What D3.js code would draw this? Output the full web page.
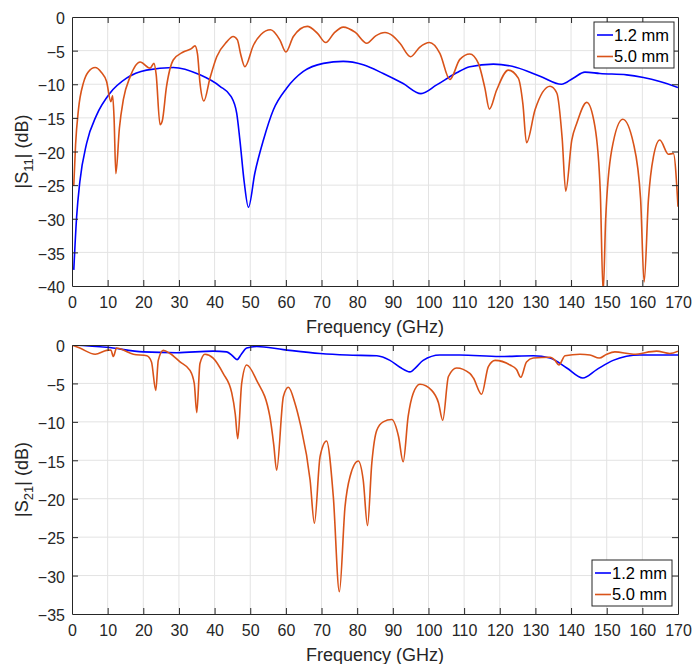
<!DOCTYPE html>
<html>
<head>
<meta charset="utf-8">
<style>
  body { margin: 0; background: #fff; }
  svg { display: block; font-family: "Liberation Sans", Arial, Helvetica, sans-serif; }
  .tick text { fill: #262626; }
</style>
<script src="https://cdn.jsdelivr.net/npm/d3@7"></script>
</head>
<body>
<svg id="chart" width="693" height="664"></svg>
<script>
// ---- data: [frequency GHz, dB] ----
let freqTicks = [0, 10, 20, 30, 40, 50, 60, 70, 80, 90, 100, 110, 120, 130, 140, 150, 160, 170]
let s11Ticks = [0, -5, -10, -15, -20, -25, -30, -35, -40]
let s21Ticks = [0, -5, -10, -15, -20, -25, -30, -35]
let seriesNames = ["1.2 mm", "5.0 mm"]

let s11_12mm = [[0.5,-37.6],[1.3,-29.7],[2.2,-24.5],[4.1,-18.8],[6.9,-14.6],[10.7,-11.3],[15.3,-9.1],[20.9,-7.9],
  [28.4,-7.5],[35.9,-8.6],[41.5,-10.3],[44.6,-11.8],[46.2,-14.3],[47.1,-18.3],[48.3,-24.5],[49.5,-28.3],
  [51.3,-23.2],[53.7,-18.3],[56.5,-13.8],[60.2,-10.6],[64.9,-8.1],[70.5,-6.9],[76.1,-6.6],[81.7,-7.1],
  [87.3,-8.4],[92.9,-9.9],[97.9,-11.4],[102.3,-10.1],[107.9,-8.3],[111.6,-7.4],[118.2,-7.0],[124.7,-7.5],
  [131.3,-8.8],[137.3,-10.0],[140.6,-9.1],[143.9,-8.2],[148.1,-8.4],[155.6,-8.6],[160.3,-9.0],[164.9,-9.6],[170,-10.5]]

let s11_50mm = [[0.5,-25.1],[1.0,-19],[1.8,-13.8],[3.2,-9.8],[4.5,-8.2],[6.5,-7.5],[8.2,-8.2],[9.7,-9.6],
  [10.9,-12.6],[11.4,-11.7],[11.8,-15],[12.3,-23.3],[13.3,-16.5],[14.4,-12.3],[16.3,-8.9],[19.1,-6.7],
  [21.9,-7.6],[23.0,-6.9],[23.6,-8.5],[24.7,-16.0],[25.3,-15.5],[26.5,-10.4],[28.4,-6.4],[31.2,-5.2],
  [33.5,-4.7],[34.5,-4.3],[35.2,-5.5],[35.9,-9.8],[37.0,-12.5],[38.7,-9.1],[40.6,-5.9],[43.4,-3.7],
  [45.2,-2.9],[46.4,-3.4],[47.3,-5.5],[48.5,-7.4],[50.9,-4.2],[53,-2.6],[55.7,-1.9],[58.3,-3.4],
  [60.0,-5.2],[62.1,-2.9],[66.0,-1.4],[68.8,-2.4],[71.2,-3.8],[73.5,-2.4],[76.1,-1.5],[79.5,-2.3],
  [82.7,-3.9],[85.2,-2.8],[87.8,-2.3],[90,-2.8],[92.0,-3.9],[95.0,-5.9],[97.5,-4.5],[100.3,-3.8],
  [103.2,-5.4],[106.0,-9.3],[108.8,-6.3],[111.6,-5.5],[114.0,-6.9],[115.8,-10.5],[117.1,-13.7],[119.1,-10.9],
  [122.4,-7.9],[125.2,-9.1],[126.5,-13],[127.5,-18.7],[129.9,-13.8],[134.1,-10.3],[136.0,-11.3],[137.5,-18],
  [138.5,-25.9],[140.2,-18.3],[141.6,-15.8],[144.4,-12.7],[146.7,-16.3],[148.2,-26],[149.0,-41],[149.7,-30.2],
  [151.4,-19.8],[154.5,-15.2],[157.5,-18.8],[159.5,-27],[160.5,-39.4],[161.7,-27.2],[163.1,-20.8],[164.9,-18.3],
  [167.3,-20.4],[168.7,-20.3],[170,-28.2]]

let s21_12mm = [[0,0],[9.7,-0.3],[20,-0.9],[29.4,-1.0],[39.6,-0.8],[43.4,-0.9],[45,-1.4],[46.3,-1.9],[47.5,-1.2],
  [49.0,-0.4],[51.8,-0.2],[59.3,-0.6],[69.6,-1.1],[77.1,-1.3],[85.5,-1.4],[89.2,-2.0],[92,-2.9],[94.8,-3.5],
  [96.5,-2.9],[98.5,-2.0],[103.2,-1.3],[108.8,-1.3],[120,-1.5],[129.4,-1.4],[134.1,-1.7],[138.8,-3.0],
  [143.3,-4.3],[147.2,-3.2],[151.8,-2.0],[159.3,-1.3],[170,-1.3]]

let s21_50mm = [[0,0],[2.2,-0.4],[6.5,-1.2],[9.7,-0.7],[10.9,-0.65],[11.6,-1.5],[12.5,-0.4],[13.5,-0.5],
  [17.2,-1.2],[21.0,-1.4],[22.3,-2.2],[23.5,-5.9],[24.2,-2.0],[25.6,-0.7],[27.5,-1.1],[30.3,-2.2],
  [33.1,-3.3],[34.3,-5],[35.0,-8.8],[35.9,-2.4],[37.3,-1.2],[39.6,-1.7],[42.4,-3.7],[44.8,-6.2],
  [45.8,-9],[46.5,-12.2],[47.6,-5.0],[49.0,-2.6],[51.8,-4.6],[55.5,-9.3],[56.6,-13],[57.4,-16.3],
  [59.3,-6.7],[60.7,-5.5],[62.5,-7.5],[64.0,-10.2],[66.8,-17.6],[68.0,-23.2],[69.6,-14.5],[71.4,-12.5],
  [73.3,-19.7],[75.0,-32.1],[76.6,-21.0],[78.0,-17.1],[80.3,-15.1],[81.7,-17.6],[82.9,-23.5],[84.1,-15.4],
  [85.5,-11.1],[87.3,-10.0],[89.7,-9.7],[91.6,-11.9],[92.9,-15.2],[94.3,-9.3],[95.7,-6.3],[97.6,-5.1],
  [100.9,-5.9],[102.8,-7.5],[104.0,-9.8],[105.6,-4.1],[107.9,-3.0],[111.6,-3.7],[112.6,-4.3],[114.9,-6.4],
  [116.8,-2.8],[118.7,-2.0],[122.9,-2.6],[124.7,-3.2],[125.9,-4.2],[127.5,-2.2],[129.4,-1.7],[134.1,-1.6],
  [135.5,-2.0],[136.6,-2.6],[138.3,-1.4],[142.5,-1.2],[145.3,-1.3],[147.9,-1.7],[150.0,-1.2],[152.3,-0.9],
  [157.5,-1.2],[164.0,-0.8],[167.7,-1.1],[170,-0.8]]

let colors = ["#0000ff", "#d95319"]
let axisColor = "#262626"
let svg = d3.select("#chart")

function drawPanel(cfg) {
  let x = d3.scaleLinear().domain([0, 170]).range([cfg.left, cfg.right])
  let y = d3.scaleLinear().domain([cfg.ymin, 0]).range([cfg.bottom, cfg.top])
  let g = svg.append("g")

  // grid
  g.append("g").selectAll("line").data(freqTicks.slice(1, -1)).enter().append("line")
    .attr("x1", d => x(d)).attr("x2", d => x(d))
    .attr("y1", cfg.top).attr("y2", cfg.bottom)
    .attr("stroke", "#e3e3e3").attr("stroke-width", 1)
  g.append("g").selectAll("line").data(cfg.yticks.slice(1, -1)).enter().append("line")
    .attr("x1", cfg.left).attr("x2", cfg.right)
    .attr("y1", d => y(d)).attr("y2", d => y(d))
    .attr("stroke", "#e3e3e3").attr("stroke-width", 1)

  // lines
  let clipId = "clip" + cfg.id
  svg.append("clipPath").attr("id", clipId).append("rect")
    .attr("x", cfg.left).attr("y", cfg.top)
    .attr("width", cfg.right - cfg.left).attr("height", cfg.bottom - cfg.top)
  let line = d3.line().x(d => x(d[0])).y(d => y(d[1])).curve(d3.curveMonotoneX)
  cfg.series.forEach(function(s, i) {
    g.append("path").datum(s)
      .attr("clip-path", "url(#" + clipId + ")")
      .attr("d", line)
      .attr("fill", "none")
      .attr("stroke", colors[i])
      .attr("stroke-width", 1.6)
  })

  // axes (MATLAB style: ticks inside, box)
  let tickLen = 6
  let xb = d3.axisBottom(x).tickValues(freqTicks).tickSizeInner(-tickLen).tickSizeOuter(0).tickPadding(10)
  let xt = d3.axisTop(x).tickValues(freqTicks).tickSizeInner(-tickLen).tickSizeOuter(0).tickFormat("")
  let yl = d3.axisLeft(y).tickValues(cfg.yticks).tickSizeInner(-tickLen).tickSizeOuter(0).tickPadding(7)
  let yr = d3.axisRight(y).tickValues(cfg.yticks).tickSizeInner(-tickLen).tickSizeOuter(0).tickFormat("")

  let axes = [
    g.append("g").attr("transform", "translate(0," + cfg.bottom + ")").call(xb),
    g.append("g").attr("transform", "translate(0," + cfg.top + ")").call(xt),
    g.append("g").attr("transform", "translate(" + cfg.left + ",0)").call(yl),
    g.append("g").attr("transform", "translate(" + cfg.right + ",0)").call(yr)
  ]
  axes.forEach(function(a) {
    a.select(".domain").attr("stroke", axisColor).attr("stroke-width", 1)
    a.selectAll(".tick line").attr("stroke", axisColor)
    a.selectAll("text").attr("font-size", 16).attr("font-family", null).attr("fill", axisColor)
  })
  axes[0].selectAll("text").attr("dy", "0.72em")
  axes[2].selectAll("text").attr("dy", "0.42em")
  // the first/last tick lines sit on the box
  axes.forEach(a => a.selectAll(".tick line").filter(function(d, i, n) { return i == 0 || i == n.length - 1 }).remove())

  // labels
  g.append("text").attr("x", (cfg.left + cfg.right) / 2).attr("y", cfg.bottom + 47)
    .attr("text-anchor", "middle").attr("font-size", 18).attr("fill", axisColor)
    .text("Frequency (GHz)")

  let yl_t = g.append("text")
    .attr("transform", "translate(28," + ((cfg.top + cfg.bottom) / 2) + ") rotate(-90)")
    .attr("text-anchor", "middle").attr("font-size", 18).attr("fill", axisColor)
  yl_t.append("tspan").text("|S")
  yl_t.append("tspan").attr("font-size", 13).attr("dy", 5).text(cfg.sub)
  yl_t.append("tspan").attr("dy", -5).text("| (dB)")

  // legend
  let lg = g.append("g").attr("transform", "translate(" + cfg.legend[0] + "," + cfg.legend[1] + ")")
  lg.append("rect").attr("width", 80).attr("height", 46)
    .attr("fill", "#fff").attr("stroke", axisColor).attr("stroke-width", 1)
  seriesNames.forEach(function(name, i) {
    let cy = 13 + i * 21.5
    lg.append("line").attr("x1", 3).attr("x2", 19).attr("y1", cy).attr("y2", cy)
      .attr("stroke", colors[i]).attr("stroke-width", 1.6)
    lg.append("text").attr("x", 20).attr("y", cy).attr("dy", "0.36em")
      .attr("font-size", 16.5).attr("fill", "#000").text(name)
  })
}

drawPanel({id: 1, left: 72, right: 678, top: 17, bottom: 286, ymin: -40, yticks: s11Ticks,
  series: [s11_12mm, s11_50mm], sub: "11", legend: [594, 22]})
drawPanel({id: 2, left: 72, right: 678, top: 345, bottom: 614, ymin: -35, yticks: s21Ticks,
  series: [s21_12mm, s21_50mm], sub: "21", legend: [592, 560]})
</script>
</body>
</html>
